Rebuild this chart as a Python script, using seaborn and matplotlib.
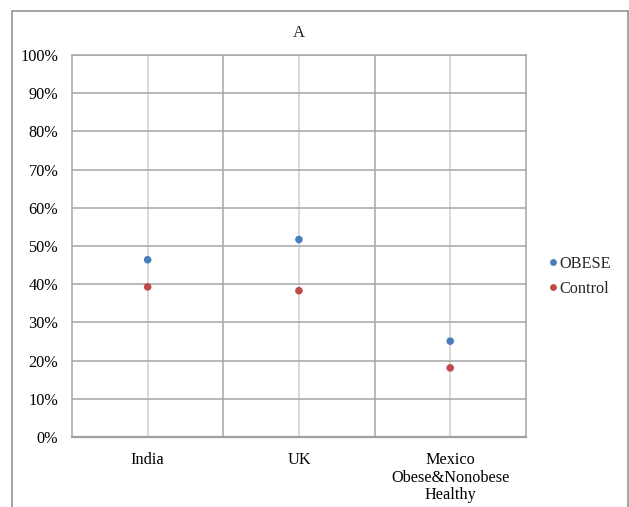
import matplotlib
matplotlib.use("Agg")
import matplotlib.pyplot as plt
import seaborn as sns
import pandas as pd
from matplotlib.patches import Rectangle
from matplotlib.ticker import FixedLocator, PercentFormatter

categories = ["India", "UK", "Mexico\nObese&Nonobese\nHealthy"]
obese = [46.4, 51.7, 25.1]
control = [39.3, 38.3, 18.1]
series = ["OBESE", "Control"]
colors = ["#4a7ebb", "#be4b48"]

df = pd.DataFrame({
    "Country": categories * 2,
    "Value": obese + control,
    "Group": ["OBESE"] * 3 + ["Control"] * 3,
})

sns.set_style("white")
plt.rcParams["font.family"] = ["Liberation Serif", "DejaVu Serif"]

fig = plt.figure(figsize=(6.29, 5.07), dpi=100)
ax = fig.add_axes([0.1145, 0.138, 0.7215, 0.7535])

sns.scatterplot(data=df, x="Country", y="Value", hue="Group", hue_order=series,
                palette=colors, s=30, linewidth=0, ax=ax, zorder=3)

ax.set_xlim(-0.5, 2.5)
ax.set_ylim(0, 100)
ax.set_yticks(range(0, 101, 10))
ax.yaxis.set_major_formatter(PercentFormatter(decimals=0))
ax.set_xticks([0, 1, 2])
ax.set_xticklabels(categories)
ax.xaxis.set_minor_locator(FixedLocator([0.5, 1.5]))

ax.grid(axis="y", color="#a6a6a6", linewidth=1.1)
ax.grid(axis="x", which="major", color="#d0d0d0", linewidth=1.1)
ax.grid(axis="x", which="minor", color="#a6a6a6", linewidth=1.1)
ax.set_axisbelow(True)

for side in ["top", "right", "left"]:
    ax.spines[side].set_color("#a6a6a6")
    ax.spines[side].set_linewidth(1.1)
ax.spines["bottom"].set_color("#a0a0a0")
ax.spines["bottom"].set_linewidth(1.6)

ax.tick_params(axis="both", which="both", length=0, labelsize=11.7, colors="black")
ax.tick_params(axis="y", pad=10)
ax.tick_params(axis="x", pad=11)
for lab in ax.get_xticklabels():
    lab.set_linespacing(1.1)
ax.set_xlabel("")
ax.set_ylabel("")
ax.set_title("A", fontsize=12, pad=13)

leg = ax.legend(loc="center left", bbox_to_anchor=(1.01, 0.42), frameon=False,
                fontsize=11.7, handletextpad=-0.6, labelspacing=0.55,
                markerscale=0.9, borderaxespad=0)

fig.patches.append(Rectangle((12 / 629, -0.05), 616 / 629, 1.028, transform=fig.transFigure,
                             fill=False, edgecolor="#8c8c8c", linewidth=1.1, clip_on=False))

fig.savefig("out.png", dpi=100)
